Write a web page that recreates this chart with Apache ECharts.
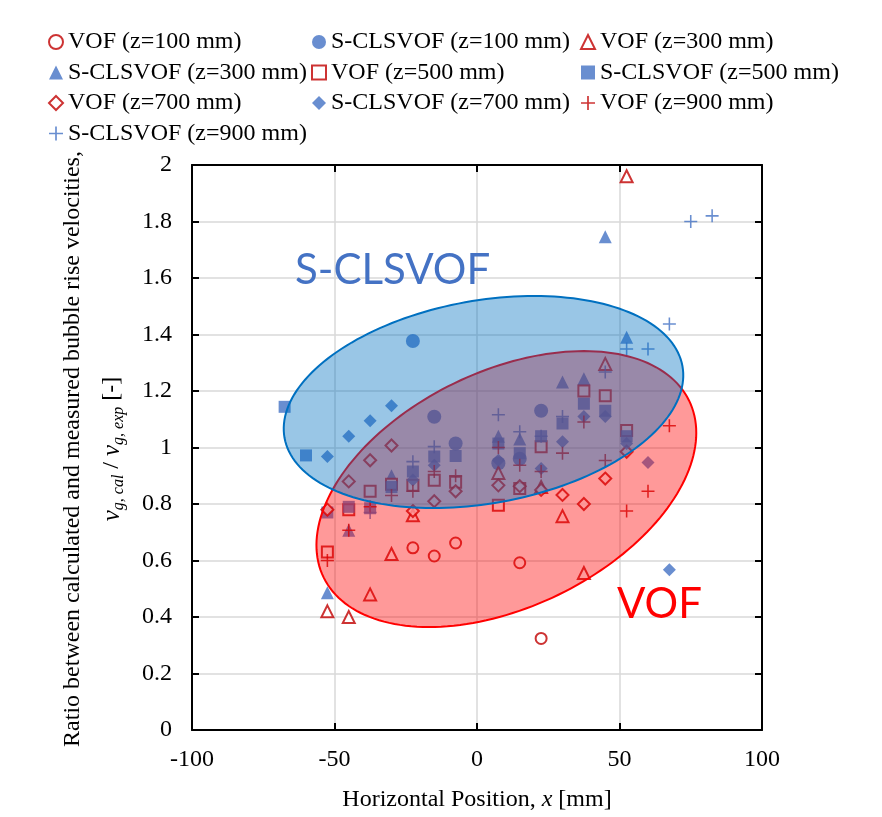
<!DOCTYPE html>
<html>
<head>
<meta charset="utf-8">
<script src="https://cdn.jsdelivr.net/npm/echarts@6/dist/echarts.min.js"></script>
<style>html,body{margin:0;padding:0;background:#fff;}#c{width:882px;height:817px;}</style>
</head>
<body>
<div id="c"></div>
<script>
// ---------- data ----------
const xV100 = [-22.5, -15, -7.5, 15, 22.5];
const yV100 = [0.645, 0.616, 0.662, 0.592, 0.324];
const xS100 = [-22.5, -15, -7.5, 7.5, 15, 22.5];
const yS100 = [1.377, 1.109, 1.014, 0.944, 0.96, 1.13];
const xV300 = [-52.5, -45, -37.5, -30, -22.5, 7.5, 22.5, 30, 37.5, 45, 52.5];
const yV300 = [0.42, 0.40, 0.48, 0.623, 0.76, 0.91, 0.86, 0.757, 0.556, 1.296, 1.96];
const xS300 = [-52.5, -45, -30, 7.5, 15, 30, 37.5, 45, 52.5];
const yS300 = [0.486, 0.707, 0.90, 1.04, 1.03, 1.232, 1.243, 1.746, 1.39];
const xV500 = [-52.5, -45, -37.5, -30, -22.5, -15, -7.5, 7.5, 15, 22.5, 37.5, 45, 52.5];
const yV500 = [0.63, 0.78, 0.845, 0.87, 0.866, 0.884, 0.877, 0.796, 0.855, 1.003, 1.2, 1.183, 1.06];
const xS500 = [-67.5, -60, -52.5, -45, -37.5, -30, -22.5, -15, -7.5, 7.5, 15, 22.5, 30, 37.5, 45, 52.5];
const yS500 = [1.144, 0.972, 0.77, 0.79, 0.785, 0.86, 0.915, 0.968, 0.97, 1.014, 0.98, 1.04, 1.085, 1.155, 1.13, 1.04];
const xV700 = [-52.5, -45, -37.5, -30, -22.5, -15, -7.5, 7.5, 15, 22.5, 30, 37.5, 45, 52.5];
const yV700 = [0.78, 0.88, 0.955, 1.007, 0.775, 0.81, 0.845, 0.866, 0.863, 0.85, 0.832, 0.80, 0.89, 0.985];
const xS700 = [-52.5, -45, -37.5, -30, -22.5, -15, 7.5, 22.5, 30, 37.5, 45, 52.5, 60, 67.5];
const yS700 = [0.968, 1.04, 1.095, 1.148, 0.885, 0.937, 0.955, 0.926, 1.02, 1.11, 1.11, 1.014, 0.947, 0.567];
const xV900 = [-52.5, -45, -37.5, -30, -22.5, -15, -7.5, 7.5, 15, 22.5, 30, 37.5, 45, 52.5, 60, 67.5];
const yV900 = [0.60, 0.707, 0.79, 0.83, 0.845, 0.915, 0.90, 1.0, 0.937, 0.915, 0.98, 1.09, 0.954, 0.775, 0.845, 1.077];
const xS900 = [-37.5, -22.5, -15, 7.5, 15, 22.5, 30, 45, 52.5, 60, 67.5, 75, 82.5];
const yS900 = [0.77, 0.95, 1.003, 1.116, 1.056, 1.04, 1.11, 1.267, 1.349, 1.349, 1.437, 1.80, 1.82];

const xTicks = [-100, -50, 0, 50, 100];
const yTicks = [0, 0.2, 0.4, 0.6, 0.8, 1, 1.2, 1.4, 1.6, 1.8, 2];

// ellipse annotations (data units): centre, semi-axis vectors
const ellipseVOF = {c: [10.3, 0.853], u: [64.08, 0.3137], v: [18.28, -0.3743]};
const ellipseS = {c: [2.28, 1.161], u: [69.8, 0.1275], v: [6.43, -0.353]};

// ---------- chart ----------
const SERIF = '"Liberation Serif", "Times New Roman", serif';
const FS = 24;
const RED = '#C00000', BLUE = '#4472C4';
const PLUS = 'path://M44,0H56V44H100V56H56V100H44V56H0V44H44Z';

function zip(xs, ys) { return xs.map((x, i) => [x, ys[i]]); }
function sc(name, xs, ys, symbol, size, color, empty) {
  return {
    name, type: 'scatter', data: zip(xs, ys), symbol, symbolSize: size, z: 2,
    itemStyle: empty ? {color: color, borderColor: color, borderWidth: 1.5} : {color: color},
    emphasis: {disabled: true}, silent: true
  };
}
function ellipseSeries(E, fill, stroke, z) {
  return {
    type: 'custom', coordinateSystem: 'cartesian2d', z: z, silent: true,
    data: [E.c],
    renderItem: function (params, api) {
      const pts = [];
      const N = 180;
      for (let k = 0; k < N; k++) {
        const t = 2 * Math.PI * k / N;
        pts.push(api.coord([
          E.c[0] + E.u[0] * Math.cos(t) + E.v[0] * Math.sin(t),
          E.c[1] + E.u[1] * Math.cos(t) + E.v[1] * Math.sin(t)
        ]));
      }
      return {type: 'polygon', shape: {points: pts}, style: {fill: fill, stroke: stroke, lineWidth: 2}};
    }
  };
}

const legendBase = {
  orient: 'vertical', top: 30, itemGap: 6.5, itemWidth: 14, itemHeight: 14, padding: 0,
  selectedMode: false,
  textStyle: {fontFamily: SERIF, fontSize: FS, color: '#000', lineHeight: 24}
};

const axisLineStyle = {show: true, onZero: false, lineStyle: {color: '#000', width: 2}};
const tickStyle = {show: true, inside: true, length: 7, lineStyle: {color: '#000', width: 2}};

const option = {
  animation: false,
  backgroundColor: '#fff',
  grid: {left: 192, right: 120, top: 165, bottom: 85},
  legend: [
    Object.assign({}, legendBase, {left: 48, data: ['VOF (z=100 mm)', 'S-CLSVOF (z=300 mm)', 'VOF (z=700 mm)', 'S-CLSVOF (z=900 mm)']}),
    Object.assign({}, legendBase, {left: 311, data: ['S-CLSVOF (z=100 mm)', 'VOF (z=500 mm)', 'S-CLSVOF (z=700 mm)']}),
    Object.assign({}, legendBase, {left: 580, data: ['VOF (z=300 mm)', 'S-CLSVOF (z=500 mm)', 'VOF (z=900 mm)']})
  ],
  xAxis: [{
    type: 'value', min: xTicks[0], max: xTicks[xTicks.length - 1], interval: 50, position: 'bottom',
    axisLine: axisLineStyle, axisTick: tickStyle,
    axisLabel: {color: '#000', fontFamily: SERIF, fontSize: FS, margin: 18},
    splitLine: {show: true, lineStyle: {color: '#d9d9d9', width: 1.5}},
    name: 'Horizontal Position, {i|x} [mm]', nameLocation: 'middle', nameGap: 58,
    nameTextStyle: {color: '#000', fontFamily: SERIF, fontSize: FS,
      rich: {i: {fontStyle: 'italic', fontFamily: SERIF, fontSize: FS, color: '#000'}}}
  }, {
    type: 'value', min: xTicks[0], max: xTicks[xTicks.length - 1], interval: 50, position: 'top',
    axisLine: axisLineStyle, axisTick: tickStyle, axisLabel: {show: false}, splitLine: {show: false}
  }],
  yAxis: [{
    type: 'value', min: yTicks[0], max: yTicks[yTicks.length - 1], interval: 0.2, position: 'left',
    axisLine: axisLineStyle, axisTick: tickStyle,
    axisLabel: {color: '#000', fontFamily: SERIF, fontSize: FS, margin: 20},
    splitLine: {show: true, lineStyle: {color: '#d9d9d9', width: 1.5}}
  }, {
    type: 'value', min: yTicks[0], max: yTicks[yTicks.length - 1], interval: 0.2, position: 'right',
    axisLine: axisLineStyle, axisTick: tickStyle, axisLabel: {show: false}, splitLine: {show: false}
  }],
  series: [
    sc('VOF (z=100 mm)', xV100, yV100, 'emptyCircle', 11, RED, true),
    sc('S-CLSVOF (z=100 mm)', xS100, yS100, 'circle', 14, BLUE, false),
    sc('VOF (z=300 mm)', xV300, yV300, 'emptyTriangle', 12, RED, true),
    sc('S-CLSVOF (z=300 mm)', xS300, yS300, 'triangle', 13, BLUE, false),
    sc('VOF (z=500 mm)', xV500, yV500, 'emptyRect', 11, RED, true),
    sc('S-CLSVOF (z=500 mm)', xS500, yS500, 'rect', 12, BLUE, false),
    sc('VOF (z=700 mm)', xV700, yV700, 'emptyDiamond', 12, RED, true),
    sc('S-CLSVOF (z=700 mm)', xS700, yS700, 'diamond', 13, BLUE, false),
    sc('VOF (z=900 mm)', xV900, yV900, PLUS, 13, RED, false),
    sc('S-CLSVOF (z=900 mm)', xS900, yS900, PLUS, 13, BLUE, false),
    ellipseSeries(ellipseVOF, 'rgba(255,0,0,0.4)', '#FF0000', 3),
    ellipseSeries(ellipseS, 'rgba(0,112,192,0.4)', '#0070C0', 4)
  ],
  graphic: [
    {type: 'text', x: 73, y: 449, rotation: Math.PI / 2, silent: true,
      style: {text: 'Ratio between calculated and measured bubble rise velocities,',
        fontFamily: SERIF, fontSize: FS, fill: '#000', align: 'center', verticalAlign: 'middle'}},
    {type: 'text', x: 112, y: 449, rotation: Math.PI / 2, silent: true,
      style: {text: '{i|v}{s|g, cal}{n| / }{i|v}{s|g, exp}{n| [-]}',
        fontFamily: SERIF, fontSize: FS, fill: '#000', align: 'center', verticalAlign: 'middle',
        rich: {
          i: {fontFamily: SERIF, fontStyle: 'italic', fontSize: 25, lineHeight: 30, fill: '#000'},
          s: {fontFamily: SERIF, fontStyle: 'italic', fontSize: 16, lineHeight: 16, verticalAlign: 'bottom', fill: '#000'},
          n: {fontFamily: SERIF, fontSize: FS, lineHeight: 30, fill: '#000'}
        }}},
    {type: 'text', x: 295, y: 270, silent: true, z: 10,
      style: {text: 'S-CLSVOF', fontFamily: 'Lato', fontSize: 42, fill: BLUE, align: 'left', verticalAlign: 'middle'}},
    {type: 'text', x: 617, y: 604, silent: true, z: 10,
      style: {text: 'VOF', fontFamily: 'Lato', fontSize: 42, fill: '#FF0000', align: 'left', verticalAlign: 'middle'}}
  ]
};

const chart = echarts.init(document.getElementById('c'), null, {renderer: 'canvas'});
chart.setOption(option);
</script>
</body>
</html>
